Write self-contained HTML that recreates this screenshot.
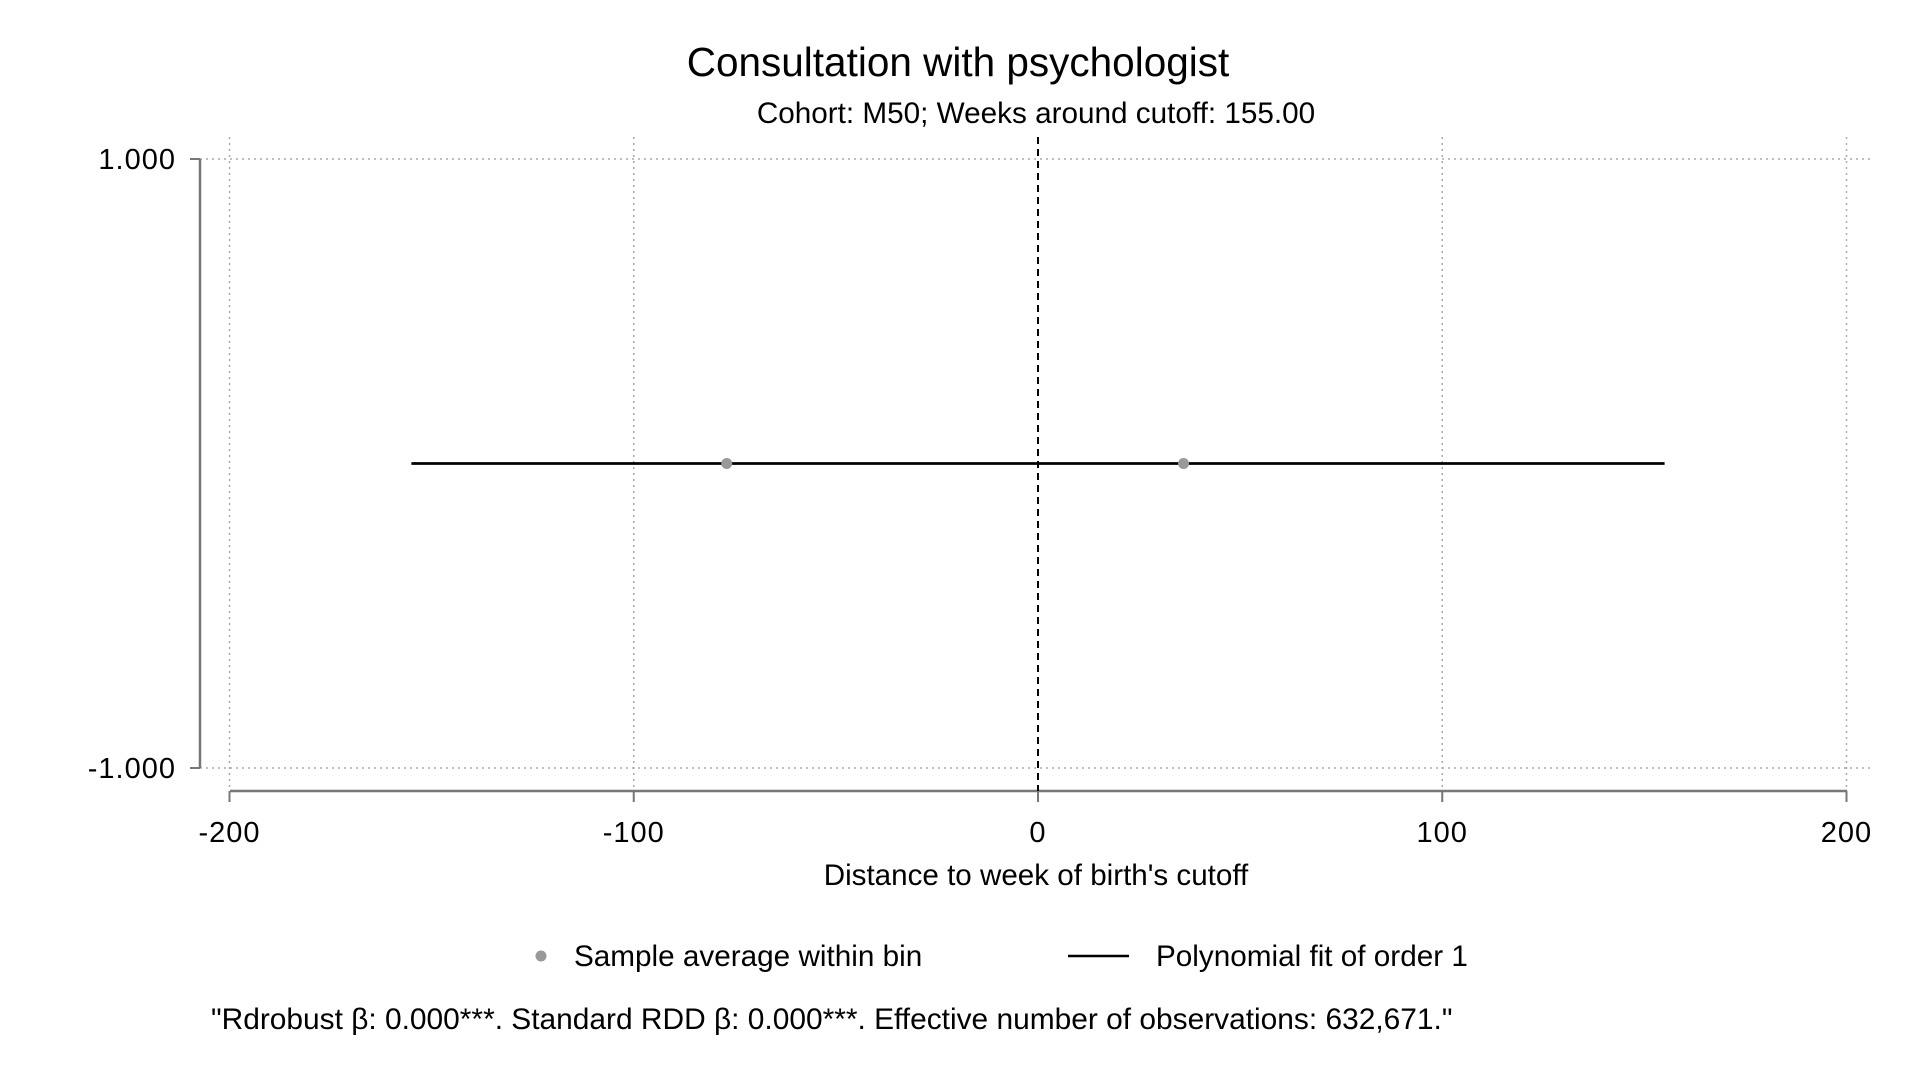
<!DOCTYPE html>
<html><head><meta charset="utf-8"><style>
body{margin:0;background:#fff;}
svg{display:block;font-family:"Liberation Sans",Arial,sans-serif;}
</style></head><body>
<svg id="chart" width="1920" height="1080" viewBox="0 0 1920 1080">
<text x="958" y="76" font-size="40.5" text-anchor="middle">Consultation with psychologist</text>
<text x="1036" y="123" font-size="29.7" text-anchor="middle">Cohort: M50; Weeks around cutoff: 155.00</text>
<g id="grid"></g>
<g id="axes"></g>
<g id="marks"></g>
<text x="1036" y="885" font-size="29.6" text-anchor="middle">Distance to week of birth's cutoff</text>
<g>
<circle cx="541" cy="956" r="5.5" fill="#999"/>
<text x="574" y="966" font-size="29.7">Sample average within bin</text>
<line x1="1068" y1="956" x2="1129" y2="956" stroke="#000" stroke-width="2.5"/>
<text x="1156" y="966" font-size="29.7">Polynomial fit of order 1</text>
</g>
<text x="211" y="1029" font-size="29.9">"Rdrobust β: 0.000***. Standard RDD β: 0.000***. Effective number of observations: 632,671."</text>
</svg>
<script>
const xTicks=[-200,-100,0,100,200];
const yTicks=[-1,1];
const yTickLabels=["-1.000","1.000"];
const binX=[-77,36];
const binY=[0,0];
const fitX=[-155,155];
const fitY=[0,0];
const cutoff=[0];
const NS="http://www.w3.org/2000/svg";
const X=v=>1038+(v/200)*808.5;
const Y=v=>463.5-v*304.5;
function mk(p,t,a){const e=document.createElementNS(NS,t);for(const k in a)e.setAttribute(k,a[k]);p.appendChild(e);return e;}
const grid=document.getElementById('grid'),axes=document.getElementById('axes'),marks=document.getElementById('marks');
yTicks.forEach((v,i)=>{
 const g=mk(grid,'line',{x1:200,x2:1874,y1:Y(v),y2:Y(v),stroke:'#aaa','stroke-width':1.5,'stroke-dasharray':'2,4'});
 
 
 const t=mk(axes,'line',{x1:190,x2:200,y1:Y(v),y2:Y(v),stroke:'#777','stroke-width':2});
 
 
 const l=mk(axes,'text',{x:176,y:Y(v)+10,'font-size':29,'letter-spacing':1,'text-anchor':'end'});l.textContent=yTickLabels[i];
 
 
});
xTicks.forEach(v=>{
 if(v!==0){const g=mk(grid,'line',{x1:X(v),x2:X(v),y1:137,y2:791,stroke:'#aaa','stroke-width':1.5,'stroke-dasharray':'2,4'});
 
 }
 const t=mk(axes,'line',{x1:X(v),x2:X(v),y1:791,y2:802,stroke:'#777','stroke-width':2});
 
 
 const l=mk(axes,'text',{x:X(v),y:842,'font-size':29,'letter-spacing':1,'text-anchor':'middle'});l.textContent=v;
 
 
});
const ya=mk(axes,'line',{x1:200,x2:200,y1:159,y2:768,stroke:'#777','stroke-width':2.5});


const xa=mk(axes,'line',{x1:230,x2:1847,y1:791,y2:791,stroke:'#777','stroke-width':2.5});


cutoff.forEach(v=>{const c=mk(marks,'line',{x1:X(v),x2:X(v),y1:137,y2:791,stroke:'#000','stroke-width':2,'stroke-dasharray':'7,5'});
 
 });
const f=mk(marks,'line',{x1:X(fitX[0]),y1:Y(fitY[0]),x2:X(fitX[1]),y2:Y(fitY[1]),stroke:'#000','stroke-width':2.8});


binX.forEach((v,i)=>{const c=mk(marks,'circle',{cx:X(v),cy:Y(binY[i]),r:5.5,fill:'#999'});
 
 });
</script>
</body></html>
